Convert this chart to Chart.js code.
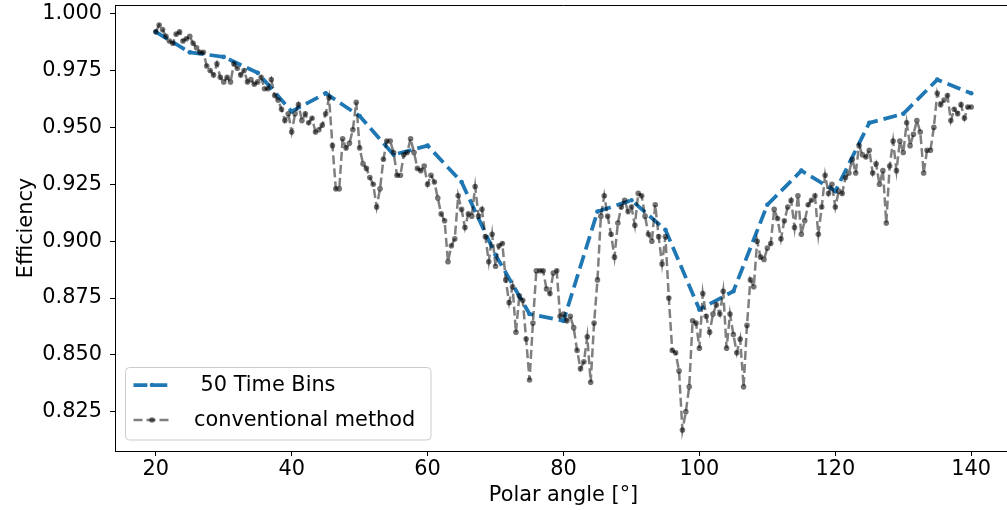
<!DOCTYPE html>
<html>
<head>
<meta charset="utf-8">
<title>Efficiency vs polar angle</title>
<script src="https://cdn.jsdelivr.net/npm/chart.js@4.4.0/dist/chart.umd.min.js"></script>
<style>
  html, body { margin: 0; padding: 0; background: #fff; overflow: hidden; }
  #wrap { position: relative; width: 1016px; height: 510px; }
</style>
</head>
<body>
<div id="wrap"><canvas id="effChart"></canvas></div>
<script>
// 50 time bins - one point every 5 degrees
const binAngles = [20, 25, 30, 35, 40, 45, 50, 55, 60, 65, 70, 75, 80,
  85, 90, 95, 100, 105, 110, 115, 120, 125, 130, 135, 140];
const binEff = [0.992, 0.983, 0.981, 0.974, 0.957, 0.965, 0.955, 0.938, 0.942, 0.926, 0.894, 0.868, 0.865,
  0.913, 0.918, 0.905, 0.870, 0.878, 0.916, 0.931, 0.922, 0.952, 0.956, 0.971, 0.965];

// conventional method - one point every half degree
const convAngles = [
  20, 20.5, 21, 21.5, 22, 22.5, 23, 23.5, 24, 24.5,
  25, 25.5, 26, 26.5, 27, 27.5, 28, 28.5, 29, 29.5,
  30, 30.5, 31, 31.5, 32, 32.5, 33, 33.5, 34, 34.5,
  35, 35.5, 36, 36.5, 37, 37.5, 38, 38.5, 39, 39.5,
  40, 40.5, 41, 41.5, 42, 42.5, 43, 43.5, 44, 44.5,
  45, 45.5, 46, 46.5, 47, 47.5, 48, 48.5, 49, 49.5,
  50, 50.5, 51, 51.5, 52, 52.5, 53, 53.5, 54, 54.5,
  55, 55.5, 56, 56.5, 57, 57.5, 58, 58.5, 59, 59.5,
  60, 60.5, 61, 61.5, 62, 62.5, 63, 63.5, 64, 64.5,
  65, 65.5, 66, 66.5, 67, 67.5, 68, 68.5, 69, 69.5,
  70, 70.5, 71, 71.5, 72, 72.5, 73, 73.5, 74, 74.5,
  75, 75.5, 76, 76.5, 77, 77.5, 78, 78.5, 79, 79.5,
  80, 80.5, 81, 81.5, 82, 82.5, 83, 83.5, 84, 84.5,
  85, 85.5, 86, 86.5, 87, 87.5, 88, 88.5, 89, 89.5,
  90, 90.5, 91, 91.5, 92, 92.5, 93, 93.5, 94, 94.5,
  95, 95.5, 96, 96.5, 97, 97.5, 98, 98.5, 99, 99.5,
  100, 100.5, 101, 101.5, 102, 102.5, 103, 103.5, 104, 104.5,
  105, 105.5, 106, 106.5, 107, 107.5, 108, 108.5, 109, 109.5,
  110, 110.5, 111, 111.5, 112, 112.5, 113, 113.5, 114, 114.5,
  115, 115.5, 116, 116.5, 117, 117.5, 118, 118.5, 119, 119.5,
  120, 120.5, 121, 121.5, 122, 122.5, 123, 123.5, 124, 124.5,
  125, 125.5, 126, 126.5, 127, 127.5, 128, 128.5, 129, 129.5,
  130, 130.5, 131, 131.5, 132, 132.5, 133, 133.5, 134, 134.5,
  135, 135.5, 136, 136.5, 137, 137.5, 138, 138.5, 139, 139.5,
  140
];
const convEff = [
  0.992, 0.995, 0.993, 0.990, 0.988, 0.987, 0.991, 0.992, 0.988, 0.989,
  0.990, 0.987, 0.985, 0.983, 0.983, 0.977, 0.975, 0.973, 0.978, 0.972,
  0.970, 0.972, 0.970, 0.978, 0.976, 0.973, 0.975, 0.970, 0.971, 0.969,
  0.970, 0.972, 0.967, 0.967, 0.971, 0.964, 0.962, 0.958, 0.953, 0.956,
  0.948, 0.956, 0.960, 0.953, 0.956, 0.952, 0.954, 0.948, 0.949, 0.951,
  0.956, 0.963, 0.942, 0.923, 0.923, 0.945, 0.941, 0.943, 0.949, 0.961,
  0.941, 0.934, 0.932, 0.928, 0.925, 0.915, 0.923, 0.936, 0.944, 0.944,
  0.939, 0.929, 0.929, 0.938, 0.939, 0.945, 0.939, 0.932, 0.931, 0.933,
  0.925, 0.929, 0.926, 0.919, 0.912, 0.909, 0.891, 0.898, 0.901, 0.920,
  0.914, 0.906, 0.912, 0.911, 0.924, 0.911, 0.914, 0.902, 0.891, 0.903,
  0.889, 0.898, 0.899, 0.883, 0.873, 0.880, 0.860, 0.876, 0.874, 0.857,
  0.839, 0.864, 0.887, 0.887, 0.887, 0.879, 0.877, 0.886, 0.887, 0.867,
  0.868, 0.865, 0.867, 0.862, 0.852, 0.844, 0.847, 0.858, 0.838, 0.864,
  0.883, 0.911, 0.920, 0.911, 0.903, 0.893, 0.908, 0.915, 0.918, 0.913,
  0.915, 0.907, 0.921, 0.920, 0.911, 0.903, 0.900, 0.916, 0.902, 0.890,
  0.902, 0.875, 0.852, 0.851, 0.843, 0.817, 0.825, 0.836, 0.865, 0.864,
  0.853, 0.877, 0.867, 0.860, 0.868, 0.872, 0.868, 0.878, 0.853, 0.868,
  0.859, 0.851, 0.857, 0.836, 0.863, 0.883, 0.880, 0.900, 0.893, 0.892,
  0.897, 0.899, 0.914, 0.910, 0.901, 0.909, 0.915, 0.918, 0.906, 0.920,
  0.903, 0.909, 0.916, 0.918, 0.920, 0.903, 0.915, 0.929, 0.921, 0.925,
  0.915, 0.922, 0.921, 0.928, 0.930, 0.936, 0.930, 0.942, 0.938, 0.937,
  0.940, 0.930, 0.934, 0.925, 0.931, 0.908, 0.933, 0.944, 0.931, 0.944,
  0.939, 0.952, 0.942, 0.947, 0.953, 0.948, 0.930, 0.940, 0.940, 0.950,
  0.965, 0.960, 0.962, 0.964, 0.953, 0.958, 0.956, 0.960, 0.954, 0.959,
  0.959
];

const xTicks = [20, 40, 60, 80, 100, 120, 140];
const yTicks = [0.825, 0.850, 0.875, 0.900, 0.925, 0.950, 0.975, 1.000];

const FONT = { family: "'DejaVu Sans', sans-serif", size: 20.83 };

function toPoints(xs, ys) {
  return xs.map((x, i) => ({ x: x, y: ys[i] }));
}

// matplotlib-like legend box in the lower left of the axes
const legendBox = {
  id: 'legendBox',
  afterDraw(chart) {
    const ctx = chart.ctx;
    const area = chart.chartArea;
    const x = area.left + 10.5, w = 305.5;
    const bottom = area.bottom - 11, h = 72.5;
    const y = bottom - h;
    ctx.save();
    ctx.beginPath();
    ctx.roundRect(x, y, w, h, 4);
    ctx.fillStyle = 'rgba(255,255,255,0.8)';
    ctx.fill();
    ctx.lineWidth = 1;
    ctx.strokeStyle = '#cccccc';
    ctx.stroke();

    const rows = [y + 17.5, y + 52.5];
    const order = [1, 0]; // blue first, then grey
    order.forEach((di, r) => {
      const ds = chart.data.datasets[di];
      const ry = rows[r];
      ctx.beginPath();
      ctx.setLineDash(ds.borderDash);
      ctx.lineWidth = ds.borderWidth;
      ctx.strokeStyle = ds.borderColor;
      ctx.moveTo(x + 8, ry);
      ctx.lineTo(x + 45, ry);
      ctx.stroke();
      ctx.setLineDash([]);
      ctx.beginPath();
      ctx.arc(x + 26.5, ry, ds.pointRadius, 0, Math.PI * 2);
      ctx.fillStyle = ds.pointBackgroundColor;
      ctx.fill();
      ctx.fillStyle = '#000';
      ctx.font = FONT.size + 'px ' + FONT.family;
      ctx.textBaseline = 'middle';
      ctx.textAlign = 'left';
      ctx.fillText(ds.label, x + 68.5, ry + 1);
    });
    ctx.restore();
  }
};

// top spine (matplotlib draws a full box)
const topSpine = {
  id: 'topSpine',
  afterDatasetsDraw(chart) {
    const ctx = chart.ctx;
    const a = chart.chartArea;
    ctx.save();
    ctx.strokeStyle = '#000';
    ctx.lineWidth = 1;
    ctx.beginPath();
    ctx.moveTo(a.left, a.top + 0.5);
    ctx.lineTo(a.right, a.top + 0.5);
    ctx.stroke();
    ctx.restore();
  }
};

Chart.defaults.font.family = FONT.family;
Chart.defaults.font.size = FONT.size;
Chart.defaults.color = '#000';

const ctx = document.getElementById('effChart').getContext('2d');
const chart = new Chart(ctx, {
  type: 'line',
  data: {
    datasets: [
      {
        label: 'conventional method',
        data: toPoints(convAngles, convEff),
        borderColor: 'rgba(0,0,0,0.5)',
        borderWidth: 2.5,
        borderDash: [9, 4],
        pointRadius: 2.8,
        pointBorderWidth: 0,
        pointBackgroundColor: 'rgba(0,0,0,0.55)',
        pointBorderColor: 'rgba(0,0,0,0)',
        tension: 0,
        order: 1
      },
      {
        label: ' 50 Time Bins',
        data: toPoints(binAngles, binEff),
        borderColor: '#1f77b4',
        borderWidth: 3.75,
        borderDash: [13.9, 6],
        pointRadius: 2.3,
        pointBorderWidth: 0,
        pointBackgroundColor: '#1f77b4',
        pointBorderColor: 'rgba(0,0,0,0)',
        tension: 0,
        order: 2
      }
    ]
  },
  options: {
    responsive: true,
    maintainAspectRatio: false,
    animation: false,
    layout: { padding: { left: 0, right: 3, top: 5, bottom: 0 } },
    plugins: {
      legend: { display: false },
      tooltip: { enabled: false }
    },
    scales: {
      x: {
        type: 'linear',
        min: 14,
        max: 146,
        afterBuildTicks: (scale) => { scale.ticks = xTicks.map(v => ({ value: v })); },
        afterFit: (scale) => { scale.height = 59; scale.paddingLeft = 0; scale.paddingRight = 0; },
        ticks: { padding: 1, callback: (v) => String(v) },
        grid: { drawOnChartArea: false, tickLength: 5, tickColor: '#000', tickWidth: 1 },
        border: { display: true, color: '#000', width: 1 },
        title: { display: true, text: 'Polar angle [°]', padding: { top: 0, bottom: 1.5 } }
      },
      y: {
        type: 'linear',
        min: 0.8078,
        max: 1.0038,
        afterBuildTicks: (scale) => { scale.ticks = yTicks.map(v => ({ value: v })); },
        afterFit: (scale) => { scale.width = 115; scale.paddingTop = 0; scale.paddingBottom = 0; },
        ticks: { padding: 8, callback: (v) => v.toFixed(3) },
        grid: { drawOnChartArea: false, tickLength: 5, tickColor: '#000', tickWidth: 1 },
        border: { display: true, color: '#000', width: 1 },
        title: { display: true, text: 'Efficiency', padding: { top: 14.5, bottom: 0 } }
      }
    }
  },
  plugins: [legendBox, topSpine]
});
</script>
</body>
</html>
